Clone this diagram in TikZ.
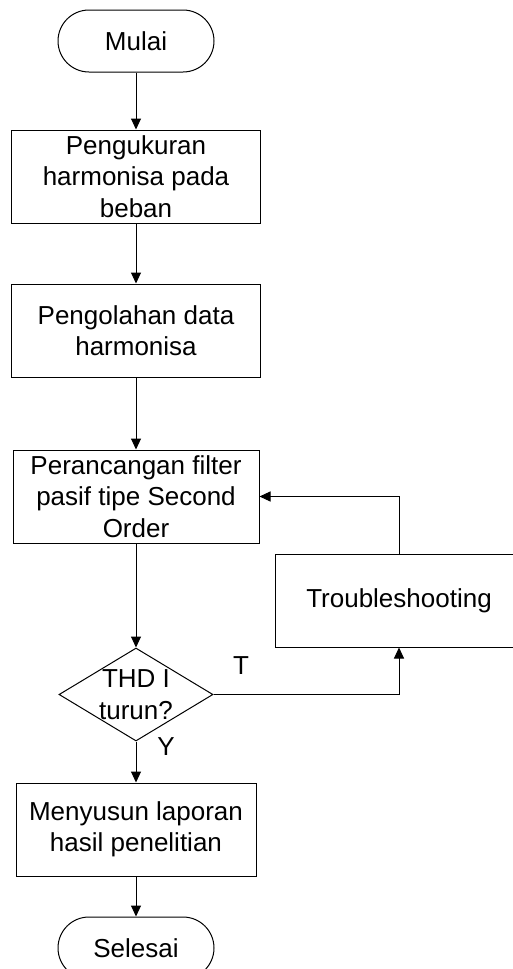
\documentclass[tikz,border=0pt]{standalone}
\usepackage{fontspec}
\setmainfont{Liberation Sans}
\usetikzlibrary{shapes.geometric,arrows.meta,positioning}
\tikzstyle{arrow} = [line width=1pt,-{Triangle[length=11pt,width=10pt]}]
\tikzstyle{terminal} = [draw, rounded corners=31pt, minimum width=156pt, minimum height=62pt]
\tikzstyle{process} = [draw, minimum height=93pt, align=center]
\tikzstyle{decision} = [draw, diamond, aspect=1.65, minimum width=154pt, minimum height=93pt]

\begin{document}
\begin{tikzpicture}[x=1pt,y=1pt,line width=1pt,every node/.style={inner sep=0pt,font=\fontsize{26}{31.5}\selectfont}]
    \useasboundingbox (0,0) rectangle (512,-969);
    % create the nodes
    \node (start)[terminal] at (136,-41) {Mulai};
    \node (measure)[process, below =57pt of start, minimum width=249pt]{Pengukuran\\harmonisa pada\\beban};
    \node (process)[process, below =60pt of measure, minimum width=249pt]{Pengolahan data\\harmonisa};
    \node (design)[process, below =72pt of process, minimum width=246pt]{Perancangan filter\\pasif tipe Second\\Order};
    \node (trouble)[process, below right =10pt and 15pt of design, minimum width=248pt]{Troubleshooting};
    \node (check)[decision, below =104pt of design, label={[align=center]center:THD I\\turun?}]{};
    \node (report)[process, below =41pt of check, minimum width=240pt]{Menyusun laporan\\hasil penelitian};
    \node (stop)[terminal, below =40pt of report]{Selesai};
    \node (no) at (241,-666) {T};
    \node (yes) at (166,-747) {Y};
    % connect the nodes
    \draw[arrow] (start) -- (measure);
    \draw[arrow] (measure) -- (process);
    \draw[arrow] (process) -- (design);
    \draw[arrow] (design) -- (check);
    \draw[arrow] (check.east) -| (trouble.south);
    \draw[arrow] (trouble.north) |- (design.east);
    \draw[arrow] (check) -- (report);
    \draw[arrow] (report) -- (stop);
\end{tikzpicture}
\end{document}
